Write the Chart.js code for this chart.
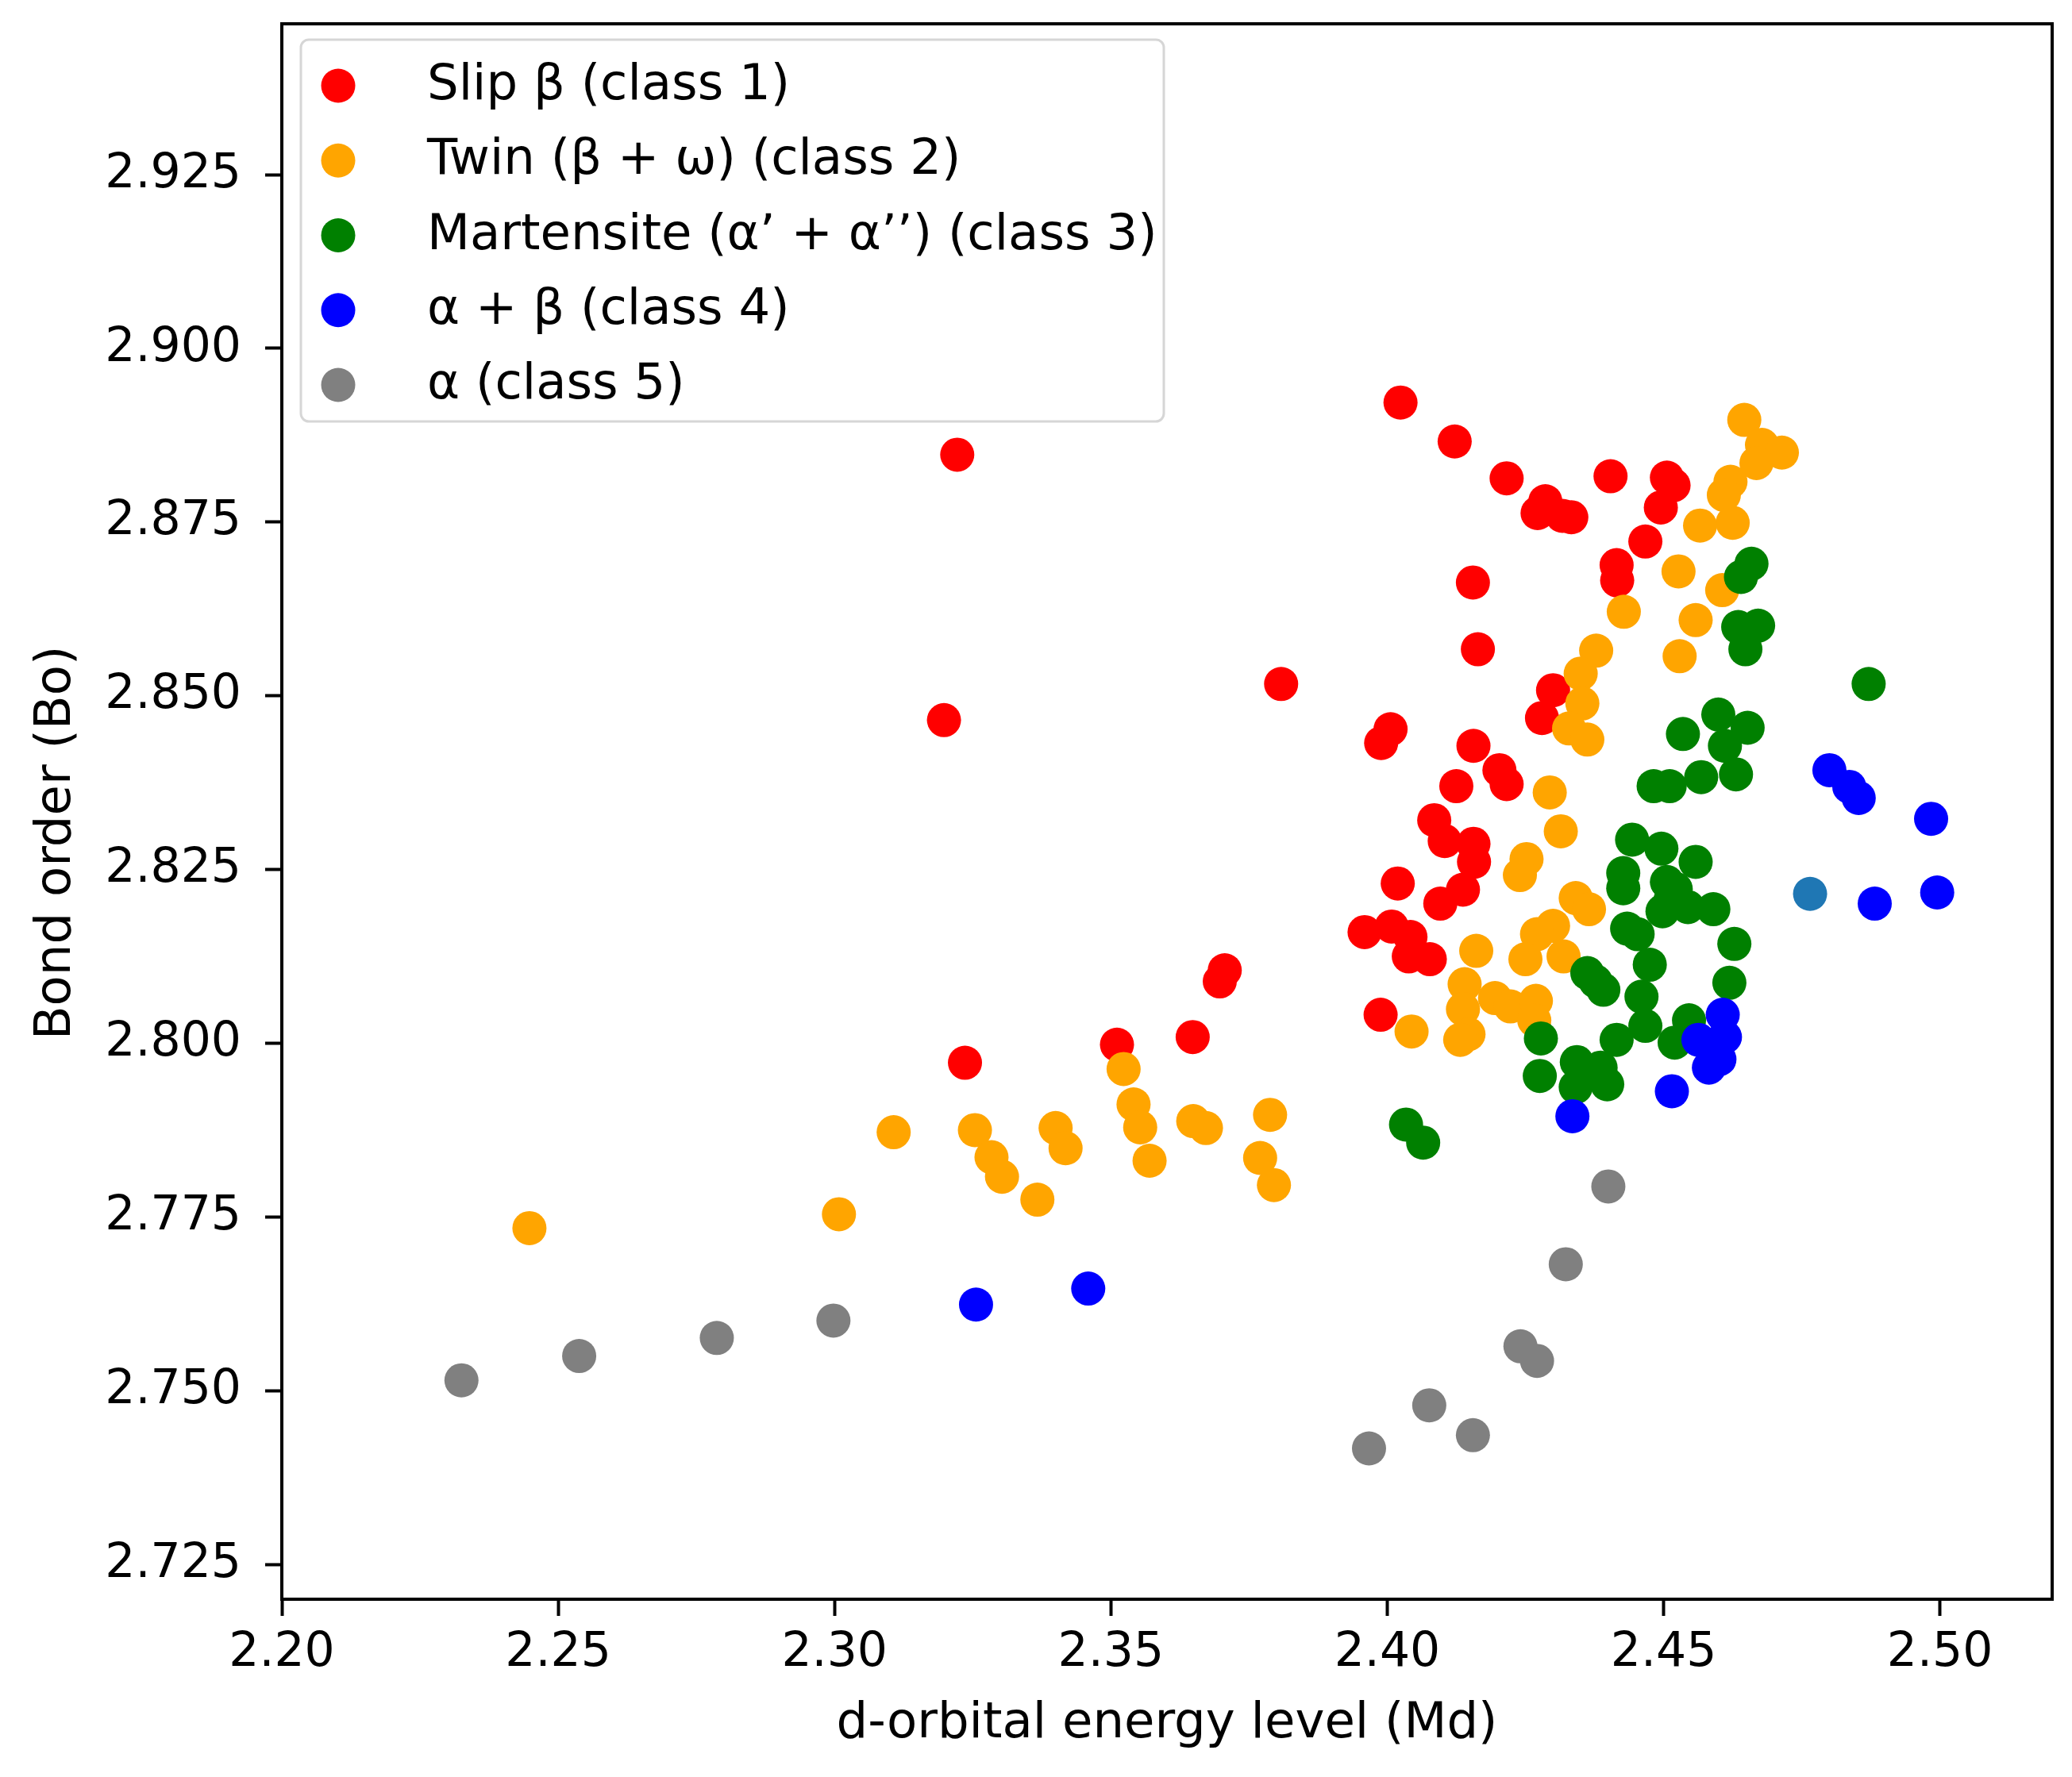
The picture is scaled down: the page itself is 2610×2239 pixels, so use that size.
<!DOCTYPE html>
<html>
<head>
<meta charset="utf-8">
<script src="https://cdn.jsdelivr.net/npm/chart.js@4.4.1/dist/chart.umd.min.js"></script>
<style>
html,body{margin:0;padding:0;background:#fff;}
#wrap{width:2610px;height:2239px;}
</style>
</head>
<body>
<div id="wrap"><canvas id="c" width="2610" height="2239"></canvas></div>
<script>
// series: [Md, Bo]
const classLabels=['Slip β (class 1)','Twin (β + ω) (class 2)','Martensite (α’ + α’’) (class 3)','α + β (class 4)','α (class 5)'];
const classColors=['#ff0000','#ffa500','#008000','#0000ff','#808080'];

const slipPts=[
  [2.3222,2.8847],[2.3198,2.8465],[2.3236,2.7972],[2.3511,2.7998],[2.3648,2.8009],[2.3697,2.8089],[2.3706,2.8105],
  [2.3808,2.8517],[2.4024,2.8922],[2.4122,2.8866],[2.4216,2.8813],[2.4286,2.8780],[2.4272,2.8763],[2.4317,2.8759],
  [2.4333,2.8757],[2.4404,2.8816],[2.4506,2.8814],[2.4518,2.8803],[2.4495,2.8771],[2.4467,2.8722],[2.4415,2.8688],
  [2.4416,2.8666],[2.4155,2.8663],[2.4164,2.8567],[2.4300,2.8508],[2.4280,2.8468],[2.4006,2.8452],[2.3989,2.8432],
  [2.4156,2.8428],[2.4125,2.8370],[2.4203,2.8393],[2.4216,2.8373],[2.4085,2.8321],[2.4104,2.8291],[2.4156,2.8287],
  [2.4157,2.8261],[2.4137,2.8221],[2.4096,2.8201],[2.4019,2.8230],[2.3959,2.8160],[2.4008,2.8168],[2.4042,2.8153],
  [2.4039,2.8125],[2.4077,2.8121],[2.3988,2.8041]
];
const twinPts=[
  [2.4646,2.8897],[2.4678,2.8861],[2.4714,2.8850],[2.4668,2.8835],[2.4621,2.8808],[2.4609,2.8789],[2.4625,2.8749],
  [2.4566,2.8745],[2.4527,2.8679],[2.4606,2.8652],[2.4558,2.8609],[2.4428,2.8621],[2.4529,2.8557],[2.4378,2.8565],
  [2.4350,2.8532],[2.4353,2.8489],[2.4329,2.8453],[2.4362,2.8437],
  [2.4294,2.8361],[2.4314,2.8305],[2.4252,2.8265],[2.4240,2.8242],[2.4341,2.8209],[2.4365,2.8193],[2.4300,2.8169],
  [2.4271,2.8157],[2.4250,2.8121],[2.4319,2.8125],[2.4161,2.8133],[2.4140,2.8085],[2.4195,2.8065],[2.4223,2.8053],
  [2.4269,2.8061],[2.4266,2.8033],[2.4137,2.8049],[2.4147,2.8013],[2.4132,2.8005],[2.4044,2.8017],
  [2.2448,2.7734],[2.3008,2.7754],[2.3107,2.7872],[2.3254,2.7875],[2.3284,2.7836],[2.3303,2.7808],[2.3367,2.7775],
  [2.3400,2.7878],[2.3418,2.7849],[2.3523,2.7963],[2.3541,2.7912],[2.3553,2.7879],[2.3570,2.7831],[2.3649,2.7888],
  [2.3672,2.7878],[2.3788,2.7897],[2.3770,2.7835],[2.3795,2.7796]
];
const martPts=[
  [2.4659,2.8690],[2.4640,2.8671],[2.4635,2.8599],[2.4671,2.8601],[2.4648,2.8567],[2.4871,2.8517],[2.4599,2.8473],
  [2.4535,2.8445],[2.4652,2.8454],[2.4611,2.8428],[2.4482,2.8370],[2.4511,2.8370],[2.4568,2.8383],[2.4631,2.8387],
  [2.4443,2.8293],[2.4496,2.8280],[2.4558,2.8261],[2.4427,2.8245],[2.4427,2.8223],[2.4506,2.8232],[2.4522,2.8222],
  [2.4512,2.8205],[2.4498,2.8190],[2.4544,2.8196],[2.4590,2.8193],[2.4434,2.8165],[2.4453,2.8157],[2.4628,2.8143],
  [2.4475,2.8113],[2.4362,2.8101],[2.4377,2.8089],[2.4391,2.8077],[2.4619,2.8087],[2.4460,2.8067],[2.4467,2.8025],
  [2.4546,2.8033],[2.4520,2.8001],[2.4415,2.8005],[2.4278,2.8007],[2.4276,2.7953],[2.4343,2.7973],[2.4341,2.7937],
  [2.4398,2.7941],[2.4386,2.7965],[2.4034,2.7883],[2.4065,2.7857]
];
const abPts=[
  [2.3256,2.7624],[2.3459,2.7647],[2.4335,2.7895],[2.4515,2.7931],[2.4582,2.7965],[2.4601,2.7977],[2.4563,2.8005],
  [2.4611,2.8009],[2.4607,2.8041],[2.4800,2.8393],[2.4836,2.8369],[2.4853,2.8353],[2.4984,2.8323],[2.4882,2.8201],
  [2.4995,2.8217]
];
const alphaPts=[
  [2.2325,2.7515],[2.2538,2.7550],[2.2787,2.7576],[2.2998,2.7601],[2.3967,2.7417],[2.4076,2.7479],[2.4155,2.7436],
  [2.4241,2.7564],[2.4271,2.7543],[2.4323,2.7682],[2.4400,2.7794]
];
// one stray point in default blue, not listed in the legend
const strayPts=[[2.4765,2.8215]];

const xTicks=[2.20,2.25,2.30,2.35,2.40,2.45,2.50];
const yTicks=[2.725,2.750,2.775,2.800,2.825,2.850,2.875,2.900,2.925];

const FONT='"DejaVu Sans", sans-serif';
const R=21.5;

const groups=[slipPts,twinPts,martPts,abPts,alphaPts];
const datasets=groups.map((g,i)=>({
  label:classLabels[i],
  data:g.map(p=>({x:p[0],y:p[1]})),
  backgroundColor:classColors[i],
  borderColor:classColors[i],
  borderWidth:0,
  pointRadius:R,
  pointHoverRadius:R,
  order:groups.length-i
}));
datasets.push({
  label:'',
  data:strayPts.map(p=>({x:p[0],y:p[1]})),
  backgroundColor:'#1f77b4',
  borderColor:'#1f77b4',
  borderWidth:0,
  pointRadius:R,
  pointHoverRadius:R,
  order:0
});

// axes frame (all four spines) + y title placed like the original
const frame={
  id:'frame',
  afterDraw(chart){
    const {ctx,chartArea:a}=chart;
    ctx.save();
    ctx.strokeStyle='#000';
    ctx.lineWidth=4;
    ctx.strokeRect(a.left,a.top,a.right-a.left,a.bottom-a.top);
    ctx.translate(72,1062);
    ctx.rotate(-Math.PI/2);
    ctx.font='62.5px '+FONT;
    ctx.fillStyle='#000';
    ctx.textAlign='center';
    ctx.textBaseline='middle';
    ctx.fillText('Bond order (Bo)',0,0);
    ctx.restore();
  }
};

// legend box in upper-left corner of the axes
const legendBox={
  id:'legendBox',
  afterDraw(chart){
    const ctx=chart.ctx;
    const bx=379,by=50,bw=1087,bh=481,r=10;
    ctx.save();
    ctx.beginPath();
    ctx.roundRect(bx,by,bw,bh,r);
    ctx.fillStyle='rgba(255,255,255,0.8)';
    ctx.fill();
    ctx.lineWidth=3;
    ctx.strokeStyle='#d6d6d6';
    ctx.stroke();
    ctx.font='62.5px '+FONT;
    ctx.textBaseline='alphabetic';
    ctx.textAlign='left';
    for(let i=0;i<classLabels.length;i++){
      const cy=108+i*94.25;
      ctx.beginPath();
      ctx.arc(426,cy,R,0,Math.PI*2);
      ctx.fillStyle=chart.data.datasets[i].backgroundColor;
      ctx.fill();
      ctx.fillStyle='#000';
      ctx.fillText(chart.data.datasets[i].label,538,cy+17);
    }
    ctx.restore();
  }
};

new Chart(document.getElementById('c'),{
  type:'scatter',
  data:{datasets},
  options:{
    responsive:false,
    animation:false,
    events:[],
    layout:{padding:{left:0,right:25,top:30,bottom:0}},
    plugins:{
      legend:{display:false},
      tooltip:{enabled:false}
    },
    scales:{
      x:{
        type:'linear',
        min:2.20,
        max:2.5203,
        afterBuildTicks:s=>{s.ticks=xTicks.map(v=>({value:v}));},
        afterFit:s=>{s.height=224;s.paddingLeft=0;s.paddingRight=0;},
        border:{display:false},
        grid:{drawOnChartArea:false,drawTicks:true,tickLength:21,tickWidth:4,tickColor:'#000'},
        ticks:{
          color:'#000',
          font:{family:FONT,size:60},
          padding:11,
          maxRotation:0,
          autoSkip:false,
          callback:v=>v.toFixed(2)
        },
        title:{
          display:true,
          text:'d-orbital energy level (Md)',
          color:'#000',
          font:{family:FONT,size:62.5},
          padding:{top:0,bottom:29}
        }
      },
      y:{
        type:'linear',
        min:2.7200,
        max:2.9467,
        afterBuildTicks:s=>{s.ticks=yTicks.map(v=>({value:v}));},
        afterFit:s=>{s.width=355;s.paddingTop=0;s.paddingBottom=0;},
        border:{display:false},
        grid:{drawOnChartArea:false,drawTicks:true,tickLength:21,tickWidth:4,tickColor:'#000'},
        ticks:{
          color:'#000',
          font:{family:FONT,size:60},
          padding:30,
          autoSkip:false,
          callback:v=>v.toFixed(3)
        },
        title:{display:false}
      }
    }
  },
  plugins:[frame,legendBox]
});
</script>
</body>
</html>
